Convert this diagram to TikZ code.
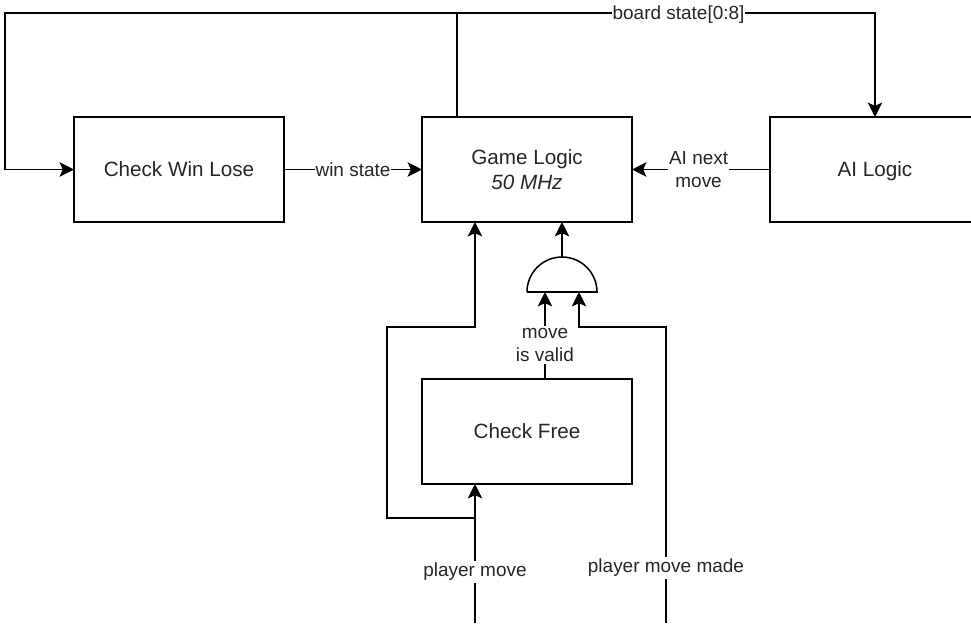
\documentclass[tikz,border=0pt]{standalone}
\usepackage{fontspec}
\setmainfont{Liberation Sans}
\usepackage{tikz}
\usetikzlibrary{
  arrows.meta,
  positioning,
  calc
}
\tikzset{
  logicbox/.style={draw, line width=1.1pt, fill=white, outer sep=0pt,
    minimum width=5.25cm, minimum height=2.625cm,
    align=center, font=\fontsize{14.7}{17.5}\selectfont, text=black!85},
  onelinebox/.style={logicbox, text height=10.5pt, text depth=0pt},
  gatebox/.style={minimum width=1.75cm, minimum height=0.875cm,
    inner sep=0pt, outer sep=0pt},
  wire/.style={line width=1.1pt},
  arr/.style={-{Stealth[length=0.36cm, width=0.36cm, inset=0.08cm]}, line width=1.1pt},
  lbl/.style={fill=white, inner xsep=0.5pt, inner ysep=1.5pt,
    align=center, font=\fontsize{13.5}{16.5}\selectfont, text=black!85},
}
\begin{document}
\begin{tikzpicture}[node distance=3.45cm]
  \clip (-13.175,4.2375) rectangle (11.1,-11.3375);
  \node[logicbox] (game) {Game Logic\\\textit{50 MHz}};
  \node[onelinebox, left=of game] (checkwin) {Check Win Lose};
  \node[onelinebox, right=of game] (ailogic) {AI Logic};
  \node[onelinebox, below=3.925cm of game] (checkfree) {Check Free};
  \node[gatebox, below=0.875cm of {$(game.south)+(0.875,0)$}] (gate) {};
  \draw[wire] (gate.south west) -- (gate.south east)
    arc[start angle=0, end angle=180, x radius=0.875cm, y radius=0.875cm];
  % board state bus along the top
  \coordinate (taplow) at ($(game.north)+(-1.75,0)$);
  \coordinate (taptop) at ($(taplow)+(0,2.6)$);
  \coordinate (topleft) at ($(taptop)+(-11.3,0)$);
  \coordinate (topright) at (ailogic.north |- taptop);
  \draw[wire] (taplow) -- (taptop);
  \draw[arr] (taptop) -- node[lbl, pos=0.53, yshift=-0.05cm] (boardlbl) {board state[0:8]} (topright) -- (ailogic.north);
  \draw[arr] (taptop) -- (topleft) |- (checkwin.west);
  % links between the boxes
  \draw[arr] (checkwin.east) -- node[lbl] (winlbl) {win state} (game.west);
  \draw[arr] (ailogic.west) -- node[lbl, xshift=-0.06cm] (nextlbl) {AI next\\move} (game.east);
  % gate
  \coordinate (gateout) at (gate.north);
  \coordinate (gatetip) at (game.south -| gate.north);
  \draw[arr] (gateout) -- (gatetip);
  \coordinate (validin) at ($(gate.south)+(-0.425,0)$);
  \coordinate (validout) at (validin |- checkfree.north);
  \draw[arr] (validout) -- node[lbl, pos=0.39] (validlbl) {move\\is valid} (validin);
  % player inputs
  \coordinate (madein) at ($(gate.south)+(0.425,0)$);
  \coordinate (madebend) at ($(madein)+(0,-0.875)$);
  \coordinate (madecorner) at ($(madebend)+(2.175,0)$);
  \coordinate (madestart) at (madecorner |- 0,-11.3375);
  \draw[arr] (madestart) -- node[lbl, pos=0.186] (madelbl) {player move made} (madecorner) -- (madebend) -- (madein);
  \coordinate (movetip) at ($(game.south)+(-1.3,0)$);
  \coordinate (movestart) at (movetip |- 0,-11.3375);
  \coordinate (freetip) at (movetip |- checkfree.south);
  \draw[arr] (movestart) -- node[lbl, pos=0.37] (movelbl) {player move} (freetip);
  \coordinate (movetap) at ($(freetip)+(0,-0.85)$);
  \coordinate (loopbend) at (movetip |- madebend);
  \coordinate (loopleft) at ($(loopbend)+(-2.2,0)$);
  \draw[arr] (movetap) -| (loopleft) -- (loopbend) -- (movetip);
\end{tikzpicture}
\end{document}
